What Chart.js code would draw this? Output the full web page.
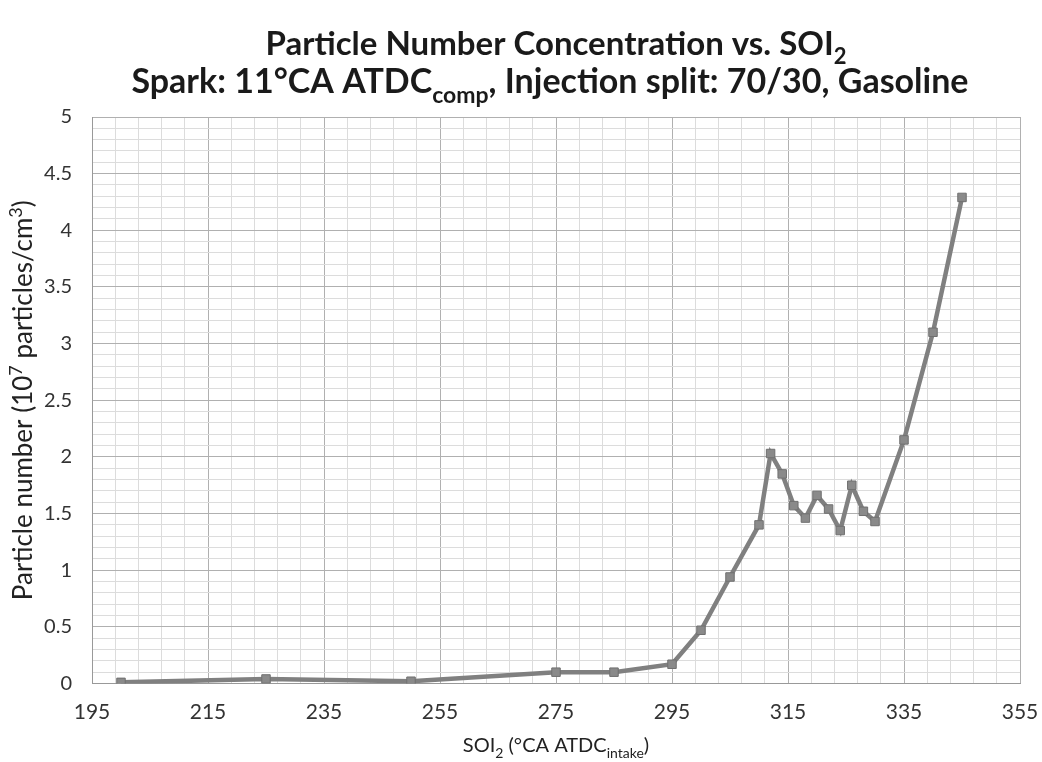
<!DOCTYPE html>
<html>
<head>
<meta charset="utf-8">
<script src="https://cdn.jsdelivr.net/npm/chart.js@4/dist/chart.umd.min.js"></script>
<style>
html, body { margin: 0; padding: 0; background: #fff; }
#wrap { width: 1042px; height: 762px; }
</style>
</head>
<body>
<div id="wrap"><canvas id="pnChart" width="1042" height="762"></canvas></div>
<script>
// SOI2 (deg CA ATDC intake) and particle number (10^7 particles/cm3)
var soi = [200, 225, 250, 275, 285, 295, 300, 305, 310, 312, 314, 316, 318, 320, 322, 324, 326, 328, 330, 335, 340, 345];
var particles = [0.01, 0.04, 0.02, 0.10, 0.10, 0.17, 0.47, 0.94, 1.40, 2.03, 1.85, 1.57, 1.46, 1.66, 1.54, 1.35, 1.75, 1.52, 1.43, 2.15, 3.10, 4.29];

var xMin = 195, xMax = 355, xMinorStep = 4, xLabelStep = 20;
var yMin = 0, yMax = 5, yMinorStep = 0.1, yLabelStep = 0.5;

var FONT = 'Lato, "Open Sans", sans-serif';

// draws text made of parts, some of them sub- or superscript
function drawRich(ctx, parts, x, y, size, weight) {
    var small = Math.round(size * 0.68);
    var w = 0;
    parts.forEach(function(p) {
        ctx.font = weight + ' ' + (p[1] ? small : size) + 'px ' + FONT;
        w += ctx.measureText(p[0]).width;
    });
    var cx = x - w / 2;
    parts.forEach(function(p) {
        ctx.font = weight + ' ' + (p[1] ? small : size) + 'px ' + FONT;
        var dy = p[1] === 'sub' ? size * 0.28 : (p[1] === 'sup' ? -size * 0.4 : 0);
        ctx.fillText(p[0], cx, y + dy);
        cx += ctx.measureText(p[0]).width;
    });
}

var textPlugin = {
    id: 'richTexts',
    afterDraw: function(chart) {
        var ctx = chart.ctx;
        var area = chart.chartArea;
        ctx.save();
        ctx.fillStyle = '#1a1a1a';
        ctx.textBaseline = 'alphabetic';
        ctx.textAlign = 'left';
        var mid = (area.left + area.right) / 2;
        drawRich(ctx, [['Particle Number Concentration vs. SOI'], ['2', 'sub']], mid, 55, 33, 'bold');
        drawRich(ctx, [['Spark: 11°CA ATDC'], ['comp', 'sub'], [', Injection split: 70/30, Gasoline']], mid - 6, 93, 34, 'bold');
        ctx.fillStyle = '#222';
        drawRich(ctx, [['SOI'], ['2', 'sub'], [' (°CA ATDC'], ['intake', 'sub'], [')']], mid, 752, 20, 'normal');
        ctx.translate(32, (area.top + area.bottom) / 2);
        ctx.rotate(-Math.PI / 2);
        drawRich(ctx, [['Particle number (10'], ['7', 'sup'], [' particles/cm'], ['3', 'sup'], [')']], 0, 0, 26, 'normal');
        ctx.restore();
    }
};

function stepTicks(from, to, step) {
    var t = [];
    for (var v = from; v <= to + 1e-9; v += step) {
        t.push({ value: Math.round(v * 1000) / 1000 });
    }
    return t;
}

var ctx = document.getElementById('pnChart').getContext('2d');
var pnChart = new Chart(ctx, {
    type: 'line',
    data: {
        datasets: [{
            data: soi.map(function(x, i) { return { x: x, y: particles[i] }; }),
            borderColor: '#808080',
            backgroundColor: '#8a8a8a',
            borderWidth: 4.5,
            pointStyle: 'rect',
            pointRadius: 6,
            pointBorderColor: '#707070',
            pointBorderWidth: 1,
            tension: 0
        }]
    },
    options: {
        responsive: false,
        animation: false,
        layout: { padding: { top: 117, right: 22, left: 0, bottom: 0 } },
        plugins: {
            legend: { display: false },
            tooltip: { enabled: false }
        },
        scales: {
            x: {
                type: 'linear',
                min: xMin,
                max: xMax,
                afterBuildTicks: function(s) { s.ticks = stepTicks(xMin, xMax, xMinorStep); },
                afterFit: function(s) {
                    s.height = 78.5;
                    s.paddingLeft = 0;
                    s.paddingRight = 0;
                },
                ticks: {
                    autoSkip: false,
                    maxRotation: 0,
                    padding: 16,
                    color: '#333',
                    font: { family: FONT, size: 21 },
                    callback: function(v) { return (v - xMin) % xLabelStep === 0 ? v : ''; }
                },
                grid: {
                    drawTicks: false,
                    color: function(c) {
                        return (c.tick.value - xMin) % xLabelStep === 0 ? '#b0b0b0' : '#dcdcdc';
                    }
                },
                border: { color: '#999' }
            },
            y: {
                min: yMin,
                max: yMax,
                afterBuildTicks: function(s) { s.ticks = stepTicks(yMin, yMax, yMinorStep); },
                afterFit: function(s) { s.width = 92; },
                ticks: {
                    autoSkip: false,
                    padding: 20,
                    color: '#333',
                    font: { family: FONT, size: 20 },
                    callback: function(v) {
                        var k = Math.round(v * 10);
                        return k % Math.round(yLabelStep * 10) === 0 ? String(k / 10) : '';
                    }
                },
                grid: {
                    drawTicks: false,
                    color: function(c) {
                        return Math.round(c.tick.value * 10) % 5 === 0 ? '#b0b0b0' : '#dcdcdc';
                    }
                },
                border: { color: '#999' }
            }
        }
    },
    plugins: [textPlugin]
});
</script>
</body>
</html>
